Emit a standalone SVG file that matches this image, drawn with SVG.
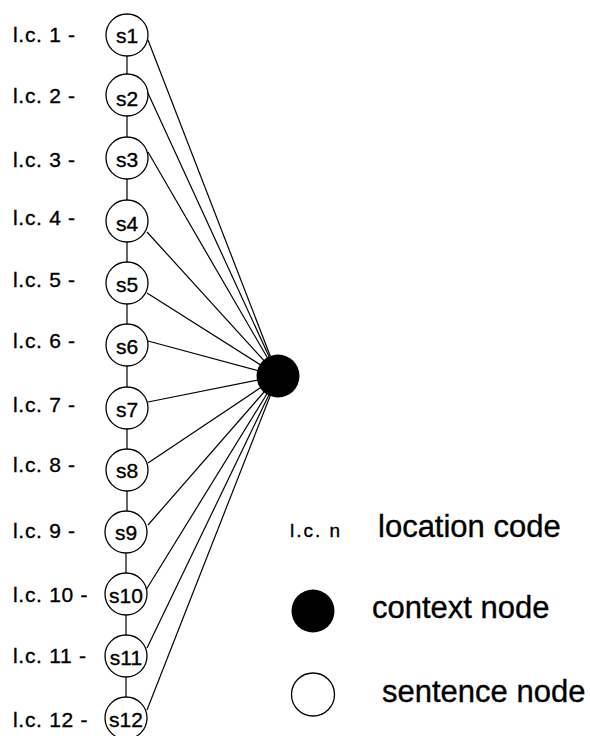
<svg xmlns="http://www.w3.org/2000/svg" width="590" height="736" viewBox="0 0 590 736">
  <style>
    text { font-family: "Liberation Sans", Arial, sans-serif; fill: #000; stroke: #000; stroke-width: 0.35px; }
    .lc { font-size: 21px; letter-spacing: 0.7px; }
    .sid { font-size: 21px; text-anchor: middle; }
    .sent { fill: #fff; stroke: #000; stroke-width: 1.3; }
    .ctx { fill: #000; }
    .edge { stroke: #000; stroke-width: 1.2; fill: none; }
    .legend { font-size: 31px; }
    .legend-small { font-size: 19px; letter-spacing: 2px; }
  </style>
  <rect width="590" height="736" fill="#fff"/>

  <!-- connectors: sentence chain and links to the context node -->
  <g id="connectors" class="edge">
    <line x1="127" y1="56" x2="127" y2="74"/>
    <line x1="127" y1="116" x2="127" y2="137"/>
    <line x1="127" y1="179" x2="127" y2="200"/>
    <line x1="127" y1="242" x2="127" y2="262"/>
    <line x1="127" y1="304" x2="127" y2="324"/>
    <line x1="127" y1="366" x2="127" y2="387"/>
    <line x1="127" y1="429" x2="127" y2="449"/>
    <line x1="127" y1="491" x2="127" y2="511"/>
    <line x1="126" y1="553" x2="126" y2="573"/>
    <line x1="126" y1="615" x2="126" y2="635"/>
    <line x1="126" y1="677" x2="126" y2="697"/>

    <line x1="148" y1="40" x2="278" y2="376"/>
    <line x1="147" y1="91" x2="278" y2="376"/>
    <line x1="148" y1="152" x2="278" y2="376"/>
    <line x1="147" y1="232" x2="278" y2="376"/>
    <line x1="147" y1="293" x2="278" y2="376"/>
    <line x1="148" y1="341" x2="278" y2="376"/>
    <line x1="148" y1="402" x2="278" y2="376"/>
    <line x1="148" y1="463" x2="278" y2="376"/>
    <line x1="148" y1="525" x2="278" y2="376"/>
    <line x1="146" y1="590" x2="278" y2="376"/>
    <line x1="147" y1="648" x2="278" y2="376"/>
    <line x1="147" y1="710" x2="278" y2="376"/>
  </g>

  <!-- sentence nodes with their location codes -->
  <g id="s1"><text class="lc" x="13" y="42">l.c. 1 -</text><circle class="sent" cx="127" cy="35" r="21"/><text class="sid" x="127" y="43">s1</text></g>
  <g id="s2"><text class="lc" x="13" y="103">l.c. 2 -</text><circle class="sent" cx="127" cy="95" r="21"/><text class="sid" x="127" y="106">s2</text></g>
  <g id="s3"><text class="lc" x="13" y="167">l.c. 3 -</text><circle class="sent" cx="127" cy="158" r="21"/><text class="sid" x="127" y="167">s3</text></g>
  <g id="s4"><text class="lc" x="13" y="225">l.c. 4 -</text><circle class="sent" cx="127" cy="221" r="21"/><text class="sid" x="127" y="231">s4</text></g>
  <g id="s5"><text class="lc" x="13" y="287">l.c. 5 -</text><circle class="sent" cx="127" cy="283" r="21"/><text class="sid" x="127" y="292">s5</text></g>
  <g id="s6"><text class="lc" x="13" y="348">l.c. 6 -</text><circle class="sent" cx="127" cy="345" r="21"/><text class="sid" x="127" y="354">s6</text></g>
  <g id="s7"><text class="lc" x="13" y="412">l.c. 7 -</text><circle class="sent" cx="127" cy="408" r="21"/><text class="sid" x="127" y="417">s7</text></g>
  <g id="s8"><text class="lc" x="13" y="472">l.c. 8 -</text><circle class="sent" cx="127" cy="470" r="21"/><text class="sid" x="127" y="478">s8</text></g>
  <g id="s9"><text class="lc" x="13" y="538">l.c. 9 -</text><circle class="sent" cx="126" cy="532" r="21"/><text class="sid" x="126" y="540">s9</text></g>
  <g id="s10"><text class="lc" x="13" y="602">l.c. 10 -</text><circle class="sent" cx="126" cy="594" r="21"/><text class="sid" x="126" y="603">s10</text></g>
  <g id="s11"><text class="lc" x="13" y="663">l.c. 11 -</text><circle class="sent" cx="126" cy="656" r="21"/><text class="sid" x="126" y="665">s11</text></g>
  <g id="s12"><text class="lc" x="13" y="727">l.c. 12 -</text><circle class="sent" cx="126" cy="718" r="21"/><text class="sid" x="126" y="727">s12</text></g>

  <!-- context node -->
  <g id="context"><circle class="ctx" cx="278" cy="376" r="21.5"/></g>

  <!-- legend -->
  <g id="legend">
    <text class="legend-small" x="290" y="537">l.c. n</text>
    <text class="legend" x="378" y="537">location code</text>
    <circle class="ctx" cx="313" cy="611" r="21.5"/>
    <text class="legend" x="372" y="618">context node</text>
    <circle class="sent" cx="313" cy="694.5" r="21.5"/>
    <text class="legend" x="382" y="702">sentence node</text>
  </g>
</svg>
